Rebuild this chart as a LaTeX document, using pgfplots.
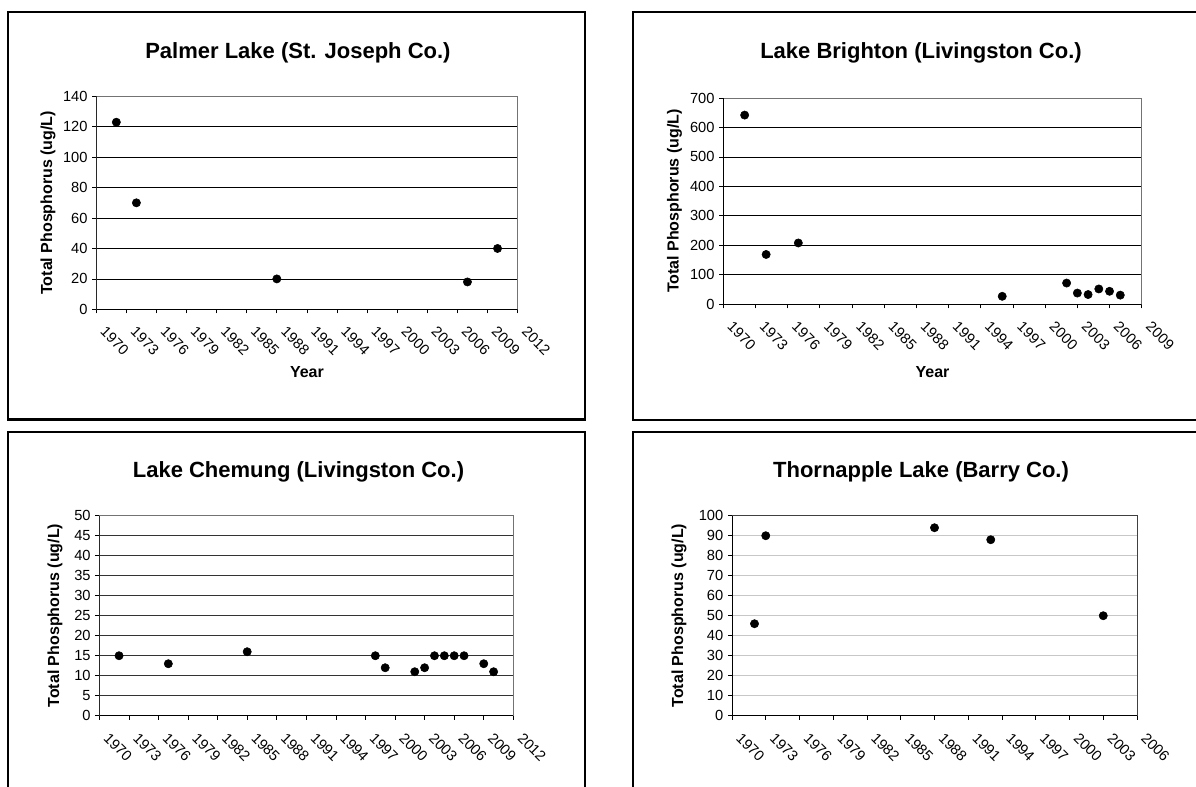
\documentclass[border=0pt]{standalone}
\usepackage{fontspec}
\setmainfont{Liberation Sans}
\usepackage{pgfplots}
\pgfplotsset{compat=1.18}

\pgfplotsset{
  lakeaxis/.style={
    scale only axis,
    anchor=south west,
    xmin=1970,
    ymin=0,
    tick align=outside,
    tick pos=left,
    major tick length=3pt,
    tick style={black, line width=0.6pt},
    axis line style={black!55, line width=0.6pt},
    ymajorgrids,
    grid style={black, line width=0.6pt},
    /pgf/number format/assume math mode=true,
    /pgf/number format/1000 sep={},
    ticklabel style={font=\fontsize{11}{13}\selectfont},
    xticklabel style={xshift=8pt, yshift=-9pt, rotate=-45, anchor=north west, inner sep=0pt},
    title style={font=\fontsize{16.5}{20}\selectfont\bfseries, anchor=base, at={(axis description cs:0.5,1)}},
    label style={font=\fontsize{12}{14}\selectfont\bfseries},
    xlabel style={anchor=base, at={(axis description cs:0.5,0)}},
    ylabel style={anchor=center, at={(axis description cs:0,0.5)}},
  },
  dots/.style={only marks, mark=*, mark size=3.1pt, black, mark options={fill=black}},
}

\begin{document}
\begin{tikzpicture}
\path[use as bounding box] (0pt,0pt) rectangle (897pt,589.5pt);

% frames
\draw[line width=1.8pt] (6pt,275pt) rectangle (438.75pt,580.5pt);
\draw[line width=1.8pt] (474.75pt,274.5pt) rectangle (910pt,580.5pt);
\draw[line width=1.8pt] (6pt,-20pt) rectangle (438.75pt,265.5pt);
\draw[line width=1.8pt] (474.75pt,-20pt) rectangle (910pt,265.5pt);

% Panel 1: Palmer Lake
\begin{axis}[lakeaxis,
  at={(72.2pt,357.5pt)}, width=316pt, height=159.75pt,
  xmax=2012, ymax=140,
  xtick={1970,1973,...,2012}, ytick={0,20,...,140},
  title={Palmer Lake (St. Joseph Co.)},
  title style={xshift=-6.75pt, yshift=22.7pt},
  xlabel={Year}, xlabel style={yshift=-51.5pt},
  ylabel={Total Phosphorus (ug/L)}, ylabel style={yshift=36.2pt},
]
\addplot[dots] coordinates {(1972,123) (1974,70) (1988,20) (2007,18) (2010,40)};
\draw[black, line width=0.6pt] (rel axis cs:0,1) -- (rel axis cs:0,0) -- (rel axis cs:1,0);
\end{axis}

% Panel 2: Lake Brighton
\begin{axis}[lakeaxis,
  at={(542.4pt,361.3pt)}, width=313.9pt, height=154.7pt,
  xmax=2009, ymax=700,
  xtick={1970,1973,...,2009}, ytick={0,100,...,700},
  title={Lake Brighton (Livingston Co.)},
  title style={xshift=-8.6pt, yshift=24pt},
  xlabel={Year}, xlabel style={yshift=-55.3pt},
  ylabel={Total Phosphorus (ug/L)}, ylabel style={yshift=36.5pt},
]
\addplot[dots] coordinates {(1972,642) (1974,169) (1977,208) (1996,27) (2002,72) (2003,38) (2004,33) (2005,52) (2006,44) (2007,31)};
\draw[black, line width=0.6pt] (rel axis cs:0,1) -- (rel axis cs:0,0) -- (rel axis cs:1,0);
\end{axis}

% Panel 3: Lake Chemung
\begin{axis}[lakeaxis,
  at={(74.5pt,52.7pt)}, width=310.5pt, height=150pt,
  xmax=2012, ymax=50,
  xtick={1970,1973,...,2012}, ytick={0,5,...,50},
  grid style={black!80, line width=0.6pt},
  title={Lake Chemung (Livingston Co.)},
  title style={xshift=-5.9pt, yshift=23pt},
  ylabel={Total Phosphorus (ug/L)}, ylabel style={yshift=33.2pt},
]
\addplot[dots] coordinates {(1972,15) (1977,13) (1985,16) (1998,15) (1999,12) (2002,11) (2003,12) (2004,15) (2005,15) (2006,15) (2007,15) (2009,13) (2010,11)};
\draw[black, line width=0.6pt] (rel axis cs:0,1) -- (rel axis cs:0,0) -- (rel axis cs:1,0);
\end{axis}

% Panel 4: Thornapple Lake
\begin{axis}[lakeaxis,
  at={(549pt,52.7pt)}, width=303.75pt, height=150pt,
  xmax=2006, ymax=100,
  xtick={1970,1973,...,2006}, ytick={0,10,...,100},
  grid style={black!22, line width=0.8pt},
  axis line style={black!75, line width=0.6pt},
  title={Thornapple Lake (Barry Co.)},
  title style={xshift=-10.1pt, yshift=22.3pt},
  ylabel={Total Phosphorus (ug/L)}, ylabel style={yshift=39.75pt},
]
\addplot[dots] coordinates {(1972,46) (1973,90) (1988,94) (1993,88) (2003,50)};
\draw[black, line width=0.6pt] (rel axis cs:0,1) -- (rel axis cs:0,0) -- (rel axis cs:1,0);
\end{axis}
\end{tikzpicture}
\end{document}
